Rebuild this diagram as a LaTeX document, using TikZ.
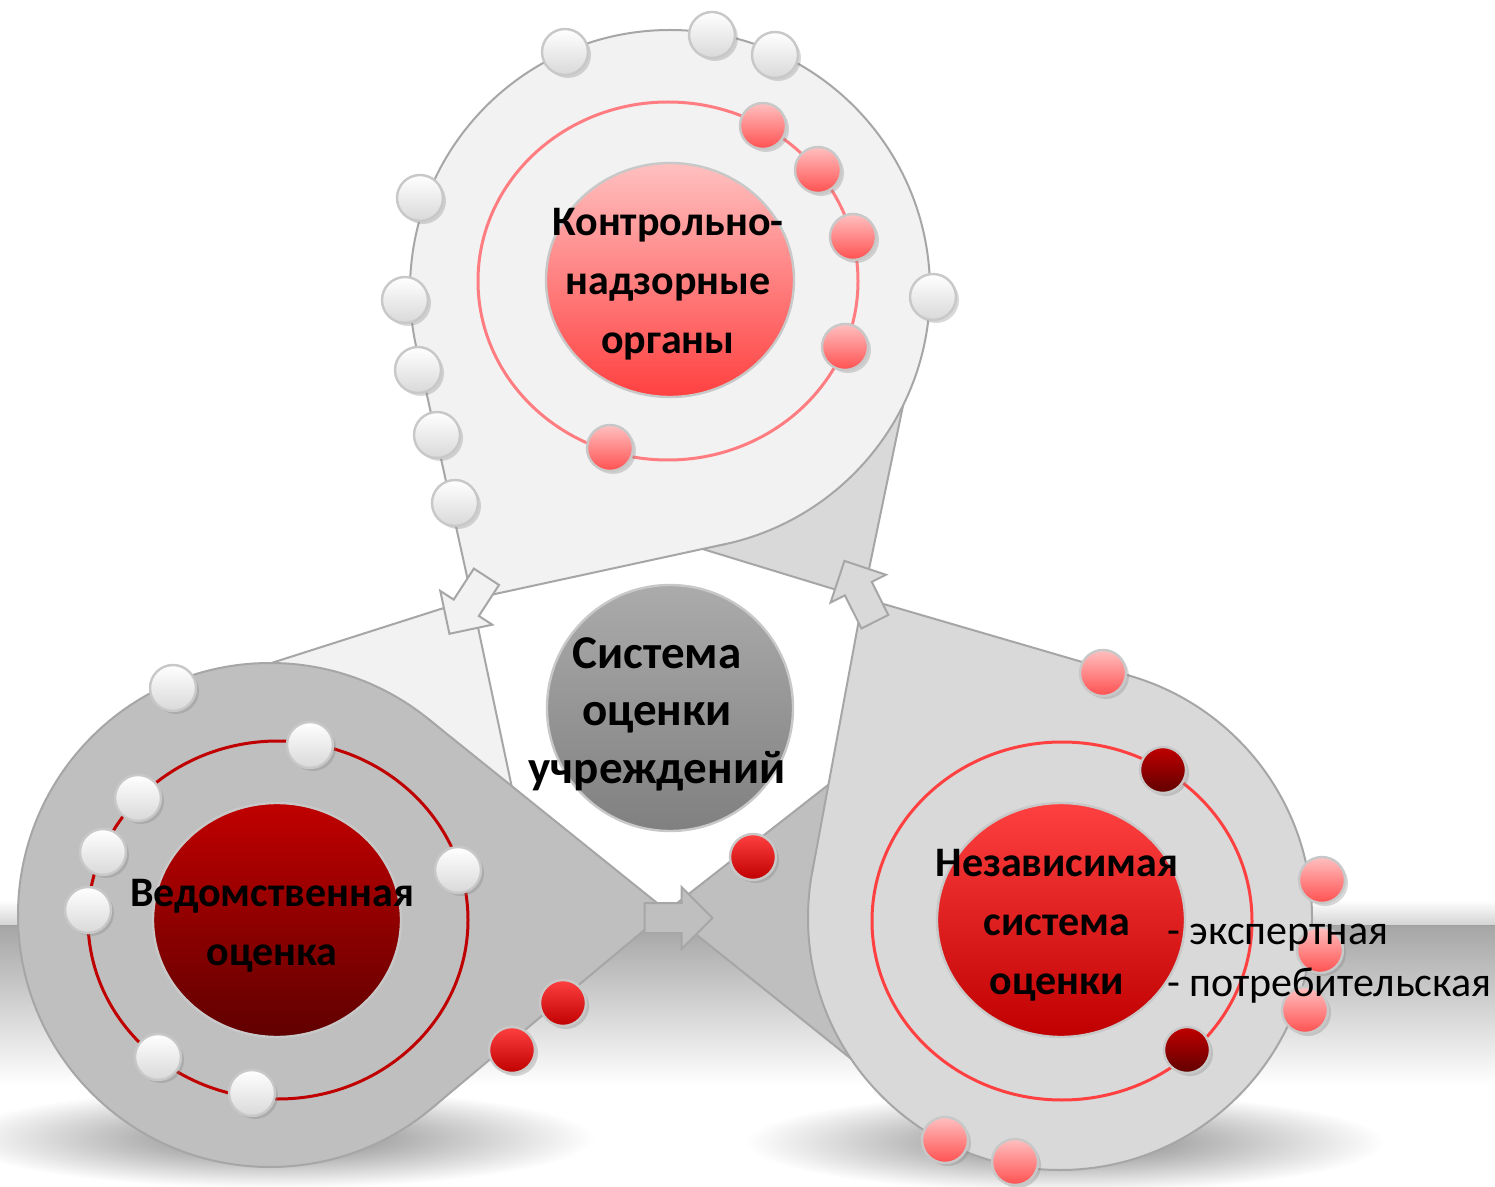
\documentclass[tikz,border=0pt]{standalone}
\usepackage{fontspec}
\setmainfont{Carlito}
\usetikzlibrary{calc, shapes.geometric, shapes.arrows, shadows}

\definecolor{discA}{HTML}{F2F2F2}
\definecolor{discB}{HTML}{BFBFBF}
\definecolor{discC}{HTML}{D9D9D9}
\definecolor{rim}{HTML}{A6A6A6}
\definecolor{beadrim}{HTML}{C8C8C8}
\definecolor{pinkhi}{HTML}{FFC0C0}
\definecolor{pinklo}{HTML}{FF5050}
\definecolor{redhi}{HTML}{FF4040}
\definecolor{redlo}{HTML}{C00000}
\definecolor{darklo}{HTML}{600000}
\definecolor{salmon}{HTML}{FF7C80}
\definecolor{hubhi}{HTML}{ABABAB}
\definecolor{hublo}{HTML}{808080}

\begin{document}
\begin{tikzpicture}[
    x=0.5pt, y=-0.5pt,
    disc/.style = {circle, draw=rim, line width=1pt, inner sep=0pt, outer sep=0pt, minimum size=#1},
    edge/.style = {draw=rim, line width=1pt, line join=round},
    flow/.style = {single arrow, draw=rim, line width=1pt, inner sep=0pt, text height=14pt, text depth=0pt,
                   minimum height=34pt, single arrow head extend=8pt, single arrow head indent=0pt},
    orbit/.style = {ellipse, draw=#1, line width=1.5pt, inner sep=0pt, minimum width=190pt, minimum height=179pt},
    core/.style = {ellipse, draw=beadrim, line width=1.2pt, inner sep=0pt, minimum width=124pt, minimum height=117pt},
    caption/.style = {align=center, font=\bfseries\fontsize{21}{29.5}\selectfont},
    bead/.style = {circle, draw=beadrim, line width=1.2pt, inner sep=0pt, minimum size=23pt,
                   drop shadow={opacity=0.3, shadow xshift=1.5pt, shadow yshift=-1.5pt}},
    wbead/.style = {bead, top color=white, bottom color=gray!30},
    pbead/.style = {bead, top color=pinkhi, bottom color=pinklo},
    rbead/.style = {bead, top color=redhi, bottom color=redlo},
    dbead/.style = {bead, top color=redlo, bottom color=darklo}
  ]

  \useasboundingbox (0,0) rectangle (1495,1187);
  \fill[white] (0,0) rectangle (1495,1187);

  % floor band behind everything
  \shade[top color=white, bottom color=gray!35] (0,900) rectangle (1495,926);
  \draw[gray!75, line width=0.6pt] (0,926) -- (1495,926);
  \shade[top color=gray!70, bottom color=white] (0,926) rectangle (1495,1085);

  % soft shadows on the floor
  \shade[inner color=black!50, outer color=white] (275,1138) ellipse [x radius=320, y radius=50];
  \shade[inner color=black!50, outer color=white] (1065,1142) ellipse [x radius=320, y radius=50];

  % crossing points of the tails
  \coordinate (pk) at (472,599);
  \coordinate (pv) at (667,911);
  \coordinate (pn) at (863,598);

  % tails, each one runs under the next disc
  \coordinate (kEndA) at (262,666);
  \coordinate (kEndB) at (540,920);
  \fill[discA] (pk) -- (kEndA) -- (kEndB) -- cycle;
  \draw[edge] (kEndA) -- (pk) -- (kEndB);

  \coordinate (vEndA) at (860,760);
  \coordinate (vEndB) at (880,1082);
  \fill[discB] (pv) -- (vEndA) -- (vEndB) -- cycle;
  \draw[edge] (vEndA) -- (pv) -- (vEndB);

  \coordinate (nEndA) at (925,300);
  \coordinate (nEndB) at (660,536);
  \fill[discC] (pn) -- (nEndA) -- (nEndB) -- cycle;
  \draw[edge] (nEndA) -- (pn) -- (nEndB);

  % top disc
  \node[disc=260pt, fill=discA] (kontrol) at (670,290) {};
  \coordinate (kA) at (tangent cs:node=kontrol, point={(pk)}, solution=1);
  \coordinate (kB) at (tangent cs:node=kontrol, point={(pk)}, solution=2);
  \fill[discA] (kA) -- (pk) -- (kB) -- cycle;
  \draw[edge] (kA) -- (pk) -- (kB);

  % left disc
  \node[disc=252pt, fill=discB] (vedom) at (270,915) {};
  \coordinate (vA) at (tangent cs:node=vedom, point={(pv)}, solution=1);
  \coordinate (vB) at (tangent cs:node=vedom, point={(pv)}, solution=2);
  \fill[discB] (vA) -- (pv) -- (vB) -- cycle;
  \draw[edge] (vA) -- (pv) -- (vB);

  % right disc
  \node[disc=252pt, fill=discC] (nezav) at (1060,918) {};
  \coordinate (nA) at (tangent cs:node=nezav, point={(pn)}, solution=1);
  \coordinate (nB) at (tangent cs:node=nezav, point={(pn)}, solution=2);
  \fill[discC] (nA) -- (pn) -- (nB) -- cycle;
  \draw[edge] (nA) -- (pn) -- (nB);

  % arrows on the crossings
  \node[flow, fill=discA, rotate=-123] (arrK) at (pk) {};
  \node[flow, fill=discB] (arrV) at (671,918) {};
  \node[flow, fill=discC, rotate=116.6] (arrN) at (pn) {};

  % orbits and cores
  \node[orbit=salmon] (kontrolOrbit) at (668,281) {};
  \node[orbit=redlo] (vedomOrbit) at (278,920) {};
  \node[orbit=redhi] (nezavOrbit) at (1062,921) {};
  \node[core, top color=pinkhi, bottom color=redhi] (kontrolCore) at (670,280) {};
  \node[core, top color=redlo, bottom color=darklo] (vedomCore) at (277,920) {};
  \node[core, top color=redhi, bottom color=redlo] (nezavCore) at (1061,920) {};

  % beads
  \foreach \p [count=\i] in {(565,52),(712,35),(775,55),(420,198),(405,300),(418,370),(437,435),(455,503),(933,297)}
    \node[wbead] (kw\i) at \p {};
  \foreach \p [count=\i] in {(763,126),(818,170),(853,237),(845,347),(610,448)}
    \node[pbead] (kp\i) at \p {};
  \foreach \p [count=\i] in {(173,688),(310,745),(138,798),(103,852),(88,910),(458,870),(158,1057),(252,1093)}
    \node[wbead] (vw\i) at \p {};
  \foreach \p [count=\i] in {(563,1003),(512,1050),(753,857)}
    \node[rbead] (vr\i) at \p {};
  \foreach \p [count=\i] in {(1103,673),(1322,880),(1320,950),(1305,1010),(945,1140),(1015,1162)}
    \node[pbead] (np\i) at \p {};
  \foreach \p [count=\i] in {(1163,770),(1187,1050)}
    \node[dbead] (nd\i) at \p {};

  % hub
  \node[circle, draw=beadrim, line width=1.2pt, inner sep=0pt, minimum size=123pt,
        top color=hubhi, bottom color=hublo] (hub) at (670,708) {};

  % labels
  \node[caption] (kontrolTxt) at (668,284) {Контрольно-\\надзорные\\органы};
  \node[caption] (vedomTxt) at (272,926) {Ведомственная\\оценка};
  \node[caption] (nezavTxt) at (1057,925) {Независимая\\система\\оценки};
  \node[caption, font=\bfseries\fontsize{23.5}{28.75}\selectfont] (hubTxt) at (657,714) {Система\\оценки\\учреждений};
  \node[anchor=west, align=left, font=\fontsize{21}{26}\selectfont] (vidy) at (1160,964) {- экспертная\\- потребительская};

\end{tikzpicture}
\end{document}
